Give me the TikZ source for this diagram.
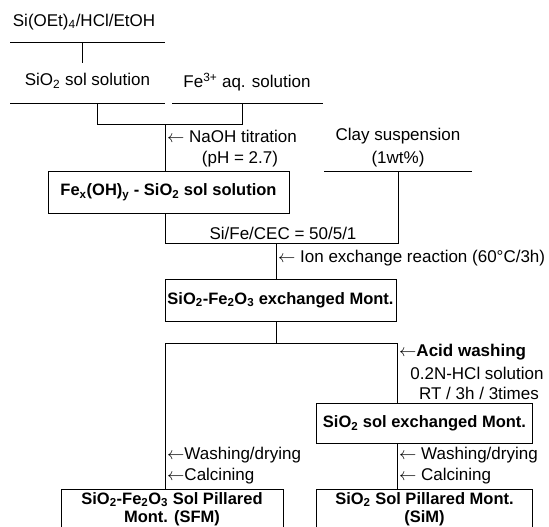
\documentclass[tikz,border=0pt]{standalone}
\usepackage{fontspec}
\setmainfont{Liberation Sans}
\usetikzlibrary{positioning}

\tikzset{
  lbl/.style={font=\fontsize{17}{20}\selectfont, inner sep=0pt},
  stepbox/.style={draw, line width=1pt, font=\bfseries\fontsize{16.5}{20}\selectfont,
    inner sep=0pt, align=center},
  flow/.style={line width=1pt}
}

\begin{document}
\begin{tikzpicture}[x=1pt,y=-1pt]
  \useasboundingbox (0,0) rectangle (549,527);
  \clip (0,0) rectangle (549,527);

  % starting materials
  \node[lbl] (teos) at (84,22) {Si(OEt)\textsubscript{4}/HCl/EtOH};
  \node[lbl] (sol) at (87.5,81) {SiO\textsubscript{2} sol solution};
  \node[lbl] (fe) at (247,82) {Fe\textsuperscript{3+} aq. solution};
  \coordinate (teosL) at (10,43);
  \coordinate (teosR) at (165,43);
  \coordinate (solTop) at (82,63);
  \coordinate (solL) at (10,103);
  \coordinate (solR) at (165,103);
  \coordinate (feL) at (172,103);
  \coordinate (feR) at (323,103);
  \draw[flow] (teosL) -- (teosR);
  \draw[flow] (solTop |- teosL) -- (solTop);
  \draw[flow] (solL) -- (solR);
  \draw[flow] (feL) -- (feR);

  % mixing
  \coordinate (mixL) at (97,124);
  \coordinate (mixC) at (165,124);
  \coordinate (mixR) at (242,124);
  \draw[flow] (mixL |- solL) -- (mixL) -- (mixR) -- (mixR |- feL);
  \node[lbl, anchor=west] (naoh) at (167,136) {$\leftarrow$ NaOH titration};
  \node[lbl] (ph) at (240,159) {(pH = 2.7)};
  \node[stepbox, minimum width=241, minimum height=42] (fexoh) at (168.5,192)
    {Fe\textsubscript{x}(OH)\textsubscript{y} - SiO\textsubscript{2} sol solution};
  \draw[flow] (mixC) -- (mixC |- fexoh.north);

  % clay
  \node[lbl] (clay) at (398,136) {Clay suspension};
  \node[lbl] (wt) at (398,159) {(1wt\%)};
  \coordinate (clayL) at (324,171);
  \coordinate (clayR) at (472,171);
  \draw[flow] (clayL) -- (clayR);

  % ion exchange
  \coordinate (joinL) at (165,243);
  \coordinate (joinC) at (276,243);
  \coordinate (joinR) at (398,243);
  \draw[flow] (joinL |- fexoh.south) -- (joinL) -- (joinR) -- (joinR |- clayL);
  \node[lbl] (ratio) at (283,233) {Si/Fe/CEC = 50/5/1};
  \node[lbl, anchor=west] (ionex) at (278,258) {$\leftarrow$ Ion exchange reaction (60°C/3h)};
  \node[stepbox, minimum width=231, minimum height=42] (exmont) at (280.5,300)
    {SiO\textsubscript{2}-Fe\textsubscript{2}O\textsubscript{3} exchanged Mont.};
  \draw[flow] (joinC) -- (joinC |- exmont.north);

  % split
  \coordinate (splitL) at (165,343);
  \coordinate (splitC) at (276,343);
  \coordinate (splitR) at (397,343);
  \draw[flow] (splitC |- exmont.south) -- (splitC);
  \draw[flow] (splitL) -- (splitR);

  % acid washing branch
  \node[lbl, anchor=west] (acid) at (399,352) {$\leftarrow$\textbf{Acid washing}};
  \node[lbl] (hcl) at (477,373) {0.2N-HCl solution};
  \node[lbl] (rt) at (479,393.5) {RT / 3h / 3times};
  \node[stepbox, minimum width=216, minimum height=40] (siex) at (424.5,423.5)
    {SiO\textsubscript{2} sol exchanged Mont.};
  \draw[flow] (splitR) -- (splitR |- siex.north);
  \node[lbl, anchor=west] (washR) at (399,455) {$\leftarrow$ Washing/drying};
  \node[lbl, anchor=west] (calcR) at (399,476) {$\leftarrow$ Calcining};

  % direct branch
  \node[lbl, anchor=west] (washL) at (167,455) {$\leftarrow$Washing/drying};
  \node[lbl, anchor=west] (calcL) at (167,476) {$\leftarrow$Calcining};

  % products
  \tikzset{product/.style={stepbox, minimum height=40,
    font=\bfseries\fontsize{16.5}{18.5}\selectfont}}
  \node[product, minimum width=222] (sfm) at (172,509)
    {SiO\textsubscript{2}-Fe\textsubscript{2}O\textsubscript{3} Sol Pillared\\Mont. (SFM)};
  \node[product, minimum width=216] (sim) at (424.5,509)
    {SiO\textsubscript{2} Sol Pillared Mont.\\(SiM)};
  \draw[flow] (splitL) -- (splitL |- sfm.north);
  \draw[flow] (siex.south -| splitR) -- (splitR |- sim.north);
\end{tikzpicture}
\end{document}
